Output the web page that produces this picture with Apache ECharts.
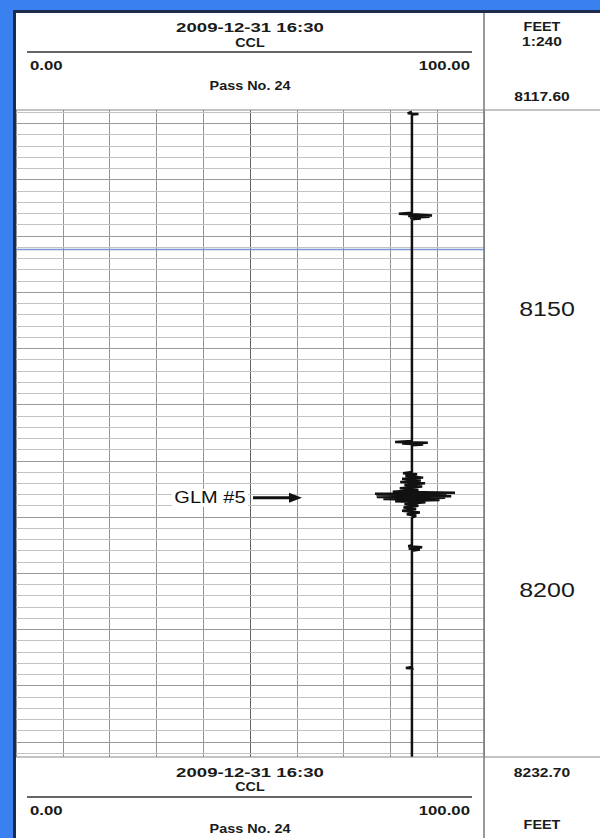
<!DOCTYPE html>
<html>
<head>
<meta charset="utf-8">
<script src="https://cdn.jsdelivr.net/npm/echarts@6/dist/echarts.min.js"></script>
<style>
  html, body { margin: 0; padding: 0; background: #ffffff; }
  #chart { width: 600px; height: 838px; }
</style>
</head>
<body>
<div id="chart"></div>
<script>
// Logged interval, feet
const topDepth = 8117.60;
const bottomDepth = 8232.70;
// CCL track scale
const cclMin = 0;
const cclMax = 100;
// Heading texts
const logTime = '2009-12-31 16:30';
const curveName = 'CCL';
const passTitle = 'Pass No. 24';
const depthUnit = 'FEET';
const depthScale = '1:240';
// Depth numbers printed in the depth column
const depthLabels = [8150, 8200];
// Blue reference line depth
const markerDepths = [8142.3];
// Collar locator trace: depth (ft) and reading
const cclDepth = [
  8117.9, 8118.2, 8118.3, 8118.4,
  8135.9, 8136.05, 8136.2, 8136.35, 8136.45, 8136.6, 8136.75, 8136.9, 8137.05,
  8176.5, 8176.65, 8176.8, 8176.95, 8177.1, 8177.25,
  8182.0, 8182.2, 8182.4, 8182.7, 8183.0, 8183.2, 8183.5, 8183.8, 8184.0, 8184.3,
  8184.6, 8184.9, 8185.2, 8185.5, 8185.7, 8185.85, 8186.0, 8186.15, 8186.3, 8186.45,
  8186.6, 8186.8, 8187.0, 8187.2, 8187.4, 8187.7, 8188.0, 8188.3, 8188.6, 8188.9,
  8189.2, 8189.5, 8189.8, 8190.1,
  8195.0, 8195.2, 8195.4, 8195.6, 8195.8, 8196.0,
  8216.7, 8216.85, 8216.95, 8217.05,
  8232.7
];
const cclValue = [
  84.6, 83.7, 86.0, 84.6,
  84.6, 81.8, 85.5, 88.9, 83.8, 88.4, 84.2, 86.5, 84.6,
  84.6, 81.0, 88.0, 82.5, 87.0, 84.6,
  84.6, 82.7, 85.7, 83.2, 87.0, 82.5, 86.5, 82.1, 87.4, 83.0,
  86.8, 82.0, 86.0, 80.5, 93.8, 76.7, 92.0, 77.0, 93.0, 77.1,
  91.7, 78.5, 90.5, 81.0, 87.5, 83.0, 86.0, 82.8, 85.5, 82.5,
  86.3, 83.5, 85.5, 84.6,
  84.6, 83.8, 86.8, 83.9, 86.3, 84.6,
  84.6, 83.3, 84.9, 84.6,
  84.6
];
// Annotation
const noteText = 'GLM #5';
const noteDepth = 8186.6;

// Depth grid: thin line every 2 ft, heavier every 10 ft
const gridLines = [];
for (let d = Math.ceil(topDepth / 2) * 2; d <= bottomDepth; d += 2) {
  gridLines.push({
    yAxis: d,
    lineStyle: { color: d % 10 === 0 ? '#9a9a9a' : '#c2c2c2', width: 1, type: 'solid' }
  });
}
markerDepths.forEach(function (d) {
  gridLines.push({ yAxis: d, lineStyle: { color: '#7896d2', width: 1.3, type: 'solid' } });
});

const chart = echarts.init(document.getElementById('chart'), null, { renderer: 'svg' });

const FONT = '"Liberation Sans", Arial, sans-serif';
const INK = '#1a1a1a';
const SX = 1.4;

function txt(str, x, y, size, align, sx, weight) {
  return {
    type: 'text', x: x, y: y, scaleX: sx || SX, z: 20,
    style: {
      text: str, x: 0, y: 0, fill: INK,
      font: (weight || 'bold') + ' ' + size + 'px ' + FONT,
      align: align || 'center', verticalAlign: 'middle',
      textAlign: align || 'center', textVerticalAlign: 'middle'
    }
  };
}
function hline(x1, x2, y, color, w) {
  return { type: 'line', z: 15, shape: { x1: x1, y1: y, x2: x2, y2: y }, style: { stroke: color, lineWidth: w } };
}
function vline(x, y1, y2, color, w) {
  return { type: 'line', z: 15, shape: { x1: x, y1: y1, x2: x, y2: y2 }, style: { stroke: color, lineWidth: w } };
}

const vColors = ['#959595', '#959595', '#959595', '#959595', '#959595', '#656565',
                 '#959595', '#959595', '#959595', '#959595', '#959595'];

chart.setOption({
  animation: false,
  backgroundColor: '#ffffff',
  grid: { left: 16, right: 116, top: 110, bottom: 81, containLabel: false },
  xAxis: {
    type: 'value', min: cclMin, max: cclMax, interval: 10,
    axisLine: { show: false }, axisTick: { show: false }, axisLabel: { show: false },
    splitLine: { show: true, lineStyle: { color: vColors, width: 1 } }
  },
  yAxis: {
    type: 'value', inverse: true, min: topDepth, max: bottomDepth,
    axisLine: { show: false }, axisTick: { show: false }, axisLabel: { show: false },
    splitLine: { show: false }
  },
  series: [
    {
      name: 'depth grid', type: 'line', data: [], silent: true, z: 1,
      markLine: {
        silent: true, symbol: ['none', 'none'], z: 1,
        label: { show: false }, emphasis: { disabled: true },
        data: gridLines
      }
    },
    {
      name: curveName, type: 'line', z: 5, silent: true,
      showSymbol: false, symbol: 'none',
      lineStyle: { color: '#111111', width: 2.5 },
      data: cclDepth.map(function (d, i) { return [cclValue[i], d]; })
    }
  ]
});

const topY = chart.convertToPixel({ yAxisIndex: 0 }, topDepth);
const botY = chart.convertToPixel({ yAxisIndex: 0 }, bottomDepth);
const x0 = chart.convertToPixel({ xAxisIndex: 0 }, cclMin);
const x1 = chart.convertToPixel({ xAxisIndex: 0 }, cclMax);
const midX = (x0 + x1) / 2;
const colX = (x1 + 600) / 2;

const g = [];
// Frame
g.push({ type: 'rect', z: 30, shape: { x: 0, y: 0, width: 600, height: 10 }, style: { fill: '#3a80ee' } });
g.push({ type: 'rect', z: 30, shape: { x: 0, y: 0, width: 13, height: 838 }, style: { fill: '#3a80ee' } });
g.push({ type: 'rect', z: 31, shape: { x: 13, y: 10, width: 587, height: 3 }, style: { fill: '#1d2c4c' } });
g.push({ type: 'rect', z: 31, shape: { x: 13, y: 10, width: 3, height: 828 }, style: { fill: '#1d2c4c' } });
// Dividers
g.push(vline(x1, 13, 838, '#777777', 1.5));
g.push(hline(x0, 600, topY, '#888888', 1.2));
g.push(hline(x0, 600, botY, '#888888', 1.2));

// Heading
g.push(txt(logTime, midX, 28, 12, 'center', 1.55));
g.push(txt(curveName, midX, 43, 12, 'center', 1.2));
g.push(hline(27, 472, 52, '#333333', 1.5));
g.push(txt(cclMin.toFixed(2), 30, 66, 12, 'left'));
g.push(txt(cclMax.toFixed(2), 470, 66, 12, 'right'));
g.push(txt(passTitle, midX, 86, 12, 'center', 1.2));
g.push(txt(depthUnit, colX, 27, 12, 'center', 1.2));
g.push(txt(depthScale, colX, 42, 12, 'center', 1.3));
g.push(txt(topDepth.toFixed(2), colX, 97, 12, 'center', 1.3));

// Footing
g.push(txt(logTime, midX, botY + 16, 12, 'center', 1.55));
g.push(txt(curveName, midX, botY + 30, 12, 'center', 1.2));
g.push(hline(27, 472, botY + 40, '#333333', 1.5));
g.push(txt(cclMin.toFixed(2), 30, botY + 54, 12, 'left'));
g.push(txt(cclMax.toFixed(2), 470, botY + 54, 12, 'right'));
g.push(txt(passTitle, midX, botY + 72, 12, 'center', 1.2));
g.push(txt(bottomDepth.toFixed(2), colX, botY + 16, 12, 'center', 1.3));
g.push(txt(depthUnit, colX, botY + 68, 12, 'center', 1.2));

// Depth numbers, printed just below their depth
depthLabels.forEach(function (d) {
  const y = chart.convertToPixel({ yAxisIndex: 0 }, d);
  g.push(txt(String(d), colX + 5, y + 17, 20, 'center', 1.25, 'normal'));
});

// Annotation with arrow
const ny = chart.convertToPixel({ yAxisIndex: 0 }, noteDepth);
g.push({
  type: 'text', x: 248, y: ny, scaleX: 1.25, z: 20,
  style: {
    text: noteText, x: 0, y: 0, fill: '#101010',
    font: '16px ' + FONT,
    align: 'right', verticalAlign: 'middle', textAlign: 'right', textVerticalAlign: 'middle',
    backgroundColor: '#ffffff', padding: [1, 2, 1, 2]
  }
});
g.push({ type: 'rect', z: 20, shape: { x: 253, y: ny - 1.5, width: 38, height: 3 }, style: { fill: '#111111' } });
g.push({ type: 'polygon', z: 20, shape: { points: [[289, ny - 5], [302, ny], [289, ny + 5]] }, style: { fill: '#111111' } });

chart.setOption({ graphic: { elements: g } });
</script>
</body>
</html>
